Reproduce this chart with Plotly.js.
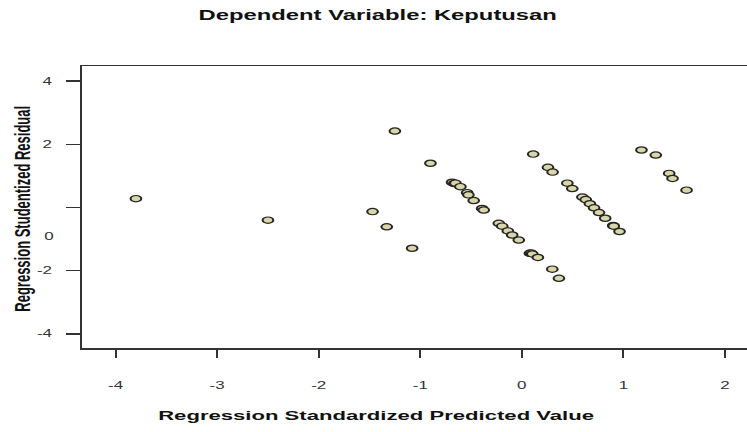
<!DOCTYPE html>
<html>
<head>
<meta charset="utf-8">
<script src="https://cdn.plot.ly/plotly-3.0.1.min.js"></script>
<style>
  html, body { margin: 0; padding: 0; background: #fff; overflow: hidden; }
  #wrap { width: 747px; height: 432px; overflow: hidden; }
  #plot { width: 440px; height: 432px; transform: scaleX(1.7); transform-origin: 0 0; }
</style>
</head>
<body>
<div id="wrap"><div id="plot"></div></div>
<script>
// Regression Standardized Predicted Value (x) and Studentized Residual (y)
const predicted = [
  -3.80, -2.50, -1.47, -1.33, -1.25, -1.08, -0.90,
  -0.687, -0.665, -0.654, -0.605, -0.539, -0.526, -0.474, -0.391, -0.375,
  -0.227, -0.193, -0.138, -0.095, -0.030, 0.079, 0.090, 0.103, 0.158, 0.300, 0.365,
  0.112, 0.257, 0.303, 0.448, 0.497, 0.596, 0.629, 0.670, 0.711, 0.760, 0.821, 0.900, 0.905, 0.962,
  1.178, 1.319, 1.451, 1.484, 1.622
];
const residual = [
  0.28, -0.40, -0.13, -0.61, 2.42, -1.29, 1.40,
  0.80, 0.76, 0.77, 0.66, 0.47, 0.40, 0.22, -0.03, -0.08,
  -0.50, -0.59, -0.74, -0.87, -1.03, -1.45, -1.44, -1.47, -1.58, -1.95, -2.24,
  1.69, 1.27, 1.12, 0.77, 0.60, 0.33, 0.25, 0.12, -0.01, -0.16, -0.34, -0.57, -0.59, -0.76,
  1.82, 1.66, 1.08, 0.92, 0.55
];
const xTicks = [-4, -3, -2, -1, 0, 1, 2];
const xTickText = ['-4', '-3', '-2', '-1', '0', '1', '2'];
const yTicks = [-4, -2, 0, 2, 4];
const yTickText = ['-4', '-2', '', '2', '4'];
const zeroLabel = '0';
const zeroLabelY = -0.93;

const FONT = 'Liberation Sans, Arial, sans-serif';

const trace = {
  type: 'scatter',
  mode: 'markers',
  x: predicted,
  y: residual,
  marker: {
    size: 6.3,
    color: '#d9d7a8',
    line: { color: '#262626', width: 1.2 }
  },
  hoverinfo: 'none'
};

const layout = {
  width: 440,
  height: 432,
  margin: { l: 48.2, r: 0, t: 66, b: 84 },
  paper_bgcolor: '#ffffff',
  plot_bgcolor: '#ffffff',
  showlegend: false,
  title: {
    text: '<b>Dependent Variable: Keputusan</b>',
    font: { family: FONT, size: 14, color: '#111' },
    x: 0.505, xref: 'container', xanchor: 'center',
    y: 1 - 15 / 432, yref: 'container', yanchor: 'middle'
  },
  xaxis: {
    range: [-4.335, 2.227],
    tickvals: xTicks,
    ticktext: xTickText,
    ticks: 'outside',
    ticklen: 8,
    tickwidth: 1.2,
    tickcolor: '#333',
    ticklabelstandoff: 20,
    tickfont: { family: FONT, size: 10, color: '#333' },
    showline: true,
    linecolor: '#333',
    linewidth: 1.5,
    mirror: true,
    showgrid: false,
    zeroline: false
  },
  yaxis: {
    range: [-4.446, 4.478],
    tickvals: yTicks,
    ticktext: yTickText,
    ticks: 'outside',
    ticklen: 8.2,
    tickwidth: 1.5,
    tickcolor: '#333',
    ticklabelstandoff: 6,
    tickfont: { family: FONT, size: 10, color: '#333' },
    showline: true,
    linecolor: '#333',
    linewidth: 1.2,
    showgrid: false,
    zeroline: false
  },
  annotations: [
    {
      text: '<b>Regression Standardized Predicted Value</b>',
      xref: 'paper', yref: 'paper',
      x: 0.4407, y: -0.24,
      xanchor: 'center', yanchor: 'middle',
      showarrow: false,
      font: { family: FONT, size: 13, color: '#111' }
    },
    {
      text: '<b>Regression Studentized Residual</b>',
      xref: 'paper', yref: 'paper',
      x: -0.0874, y: 0.493,
      xanchor: 'center', yanchor: 'middle',
      textangle: -90,
      showarrow: false,
      font: { family: FONT, size: 13, color: '#111' }
    },
    {
      text: zeroLabel,
      xref: 'paper', yref: 'y',
      x: -0.036, y: zeroLabelY,
      xanchor: 'right', yanchor: 'middle',
      showarrow: false,
      font: { family: FONT, size: 10, color: '#333' }
    }
  ]
};

Plotly.newPlot('plot', [trace], layout, { staticPlot: true, displayModeBar: false });
</script>
</body>
</html>
